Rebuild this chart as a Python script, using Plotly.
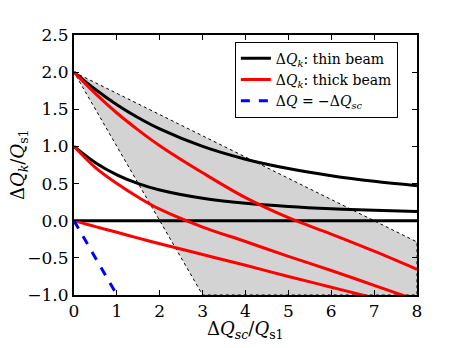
import plotly.graph_objects as go

# dQsc/Qs1 sample points
xs = [0, 0.5, 1, 1.5, 2, 3, 4, 5, 6, 7, 8]

# thin beam, starting at 2, 1, 0
thin_2 = [2.0, 1.766, 1.562, 1.386, 1.236, 1.0, 0.828, 0.702, 0.606, 0.531, 0.472]
thin_1 = [1.0, 0.781, 0.618, 0.5, 0.414, 0.303, 0.236, 0.193, 0.162, 0.140, 0.123]
thin_0 = [0, 0, 0, 0, 0, 0, 0, 0, 0, 0, 0]

# thick beam, starting at 2, 1, 0
thick_2 = [2.0, 1.71, 1.45, 1.22, 1.01, 0.645, 0.31, 0.04, -0.18, -0.41, -0.654]
thick_1 = [1.0, 0.715, 0.50, 0.315, 0.155, -0.085, -0.28, -0.48, -0.67, -0.87, -1.07]
thick_0 = [0, -0.08, -0.155, -0.235, -0.31, -0.455, -0.60, -0.75, -0.895, -1.04, -1.19]

# dQ = -dQsc
sc_x = [0, 1]
sc_y = [0, -1]

# shaded region
region_x = [0, 8, 8, 3, 0]
region_y = [2, -0.286, -1, -1, 2]

serif = "DejaVu Serif"
fig = go.Figure()

fig.add_trace(go.Scatter(x=region_x, y=region_y, fill="toself", fillcolor="#d3d3d3",
                         line=dict(color="black", width=1, dash="dot"),
                         mode="lines", showlegend=False, hoverinfo="skip"))

for i, ys in enumerate([thin_2, thin_1, thin_0]):
    fig.add_trace(go.Scatter(x=xs, y=ys, mode="lines", line=dict(color="black", width=3, shape="spline"),
                             name="Δ<i>Q<sub>k</sub></i>: thin beam", legendgroup="thin",
                             showlegend=(i == 0)))
for i, ys in enumerate([thick_2, thick_1, thick_0]):
    fig.add_trace(go.Scatter(x=xs, y=ys, mode="lines", line=dict(color="red", width=3, shape="spline"),
                             name="Δ<i>Q<sub>k</sub></i>: thick beam", legendgroup="thick",
                             showlegend=(i == 0)))

fig.add_trace(go.Scatter(x=sc_x, y=sc_y, mode="lines", line=dict(color="blue", width=3, dash="dash"),
                         name="Δ<i>Q</i> = −Δ<i>Q<sub>sc</sub></i>"))

axis = dict(showline=True, mirror="allticks", linecolor="black", linewidth=2,
            ticks="inside", ticklen=5, tickwidth=1, tickcolor="black",
            showgrid=False, zeroline=False, automargin=False,
            tickfont=dict(family=serif, size=17, color="black"))

fig.update_xaxes(range=[0, 8], dtick=1, **axis)
fig.update_yaxes(range=[-1, 2.5], dtick=0.5, tickformat=".1f", **axis)

title_font = dict(family=serif, size=18, color="black")
fig.add_annotation(text="Δ<i>Q<sub>sc</sub></i>/<i>Q</i><sub>s1</sub>", xref="paper", yref="paper",
                   x=0.5, y=-0.135, xanchor="center", yanchor="middle", showarrow=False, font=title_font)
fig.add_annotation(text="Δ<i>Q<sub>k</sub></i>/<i>Q</i><sub>s1</sub>", xref="paper", yref="paper",
                   x=-0.16, y=0.5, xanchor="center", yanchor="middle", textangle=-90,
                   showarrow=False, font=title_font)

# page body keeps an 8px margin, so the figure is 8px smaller and margins shifted
fig.update_layout(
    width=455, height=340,
    margin=dict(l=66, r=46, t=27, b=53),
    plot_bgcolor="white", paper_bgcolor="white",
    legend=dict(x=0.469, y=0.974, xanchor="left", yanchor="top",
                bgcolor="white", bordercolor="black", borderwidth=1,
                font=dict(family=serif, size=14, color="black"),
                itemwidth=30, tracegroupgap=0),
)

fig.write_html("out.html")
